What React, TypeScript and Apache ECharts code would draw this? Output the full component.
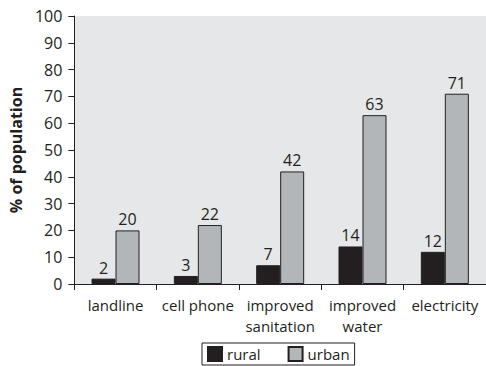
import React, { useEffect, useRef } from "react";
import * as echarts from "echarts";

const categories = ["landline", "cell phone", "improved\nsanitation", "improved\nwater", "electricity"];
const rural = [2, 3, 7, 14, 12];
const urban = [20, 22, 42, 63, 71];
const seriesNames = ["rural", "urban"];

const FONT = "'Open Sans', 'Noto Sans', sans-serif";
const INK = "#231f20";

export default function App() {
  const ref = useRef<HTMLDivElement>(null);
  useEffect(() => {
    if (!ref.current) return;
    const chart = echarts.init(ref.current, undefined, { renderer: "svg" });
    chart.setOption({
      animation: false,
      backgroundColor: "#ffffff",
      textStyle: { fontFamily: FONT, color: INK },
      grid: {
        left: 71,
        right: 0,
        top: 16,
        bottom: 82,
        show: true,
        backgroundColor: "#e6e7e8",
        borderWidth: 0,
      },
      legend: {
        data: seriesNames,
        top: 343,
        left: 202,
        icon: "rect",
        itemWidth: 14,
        itemHeight: 14,
        itemGap: 27,
        padding: [3, 5, 3, 5],
        borderColor: INK,
        borderWidth: 1,
        textStyle: { fontFamily: FONT, fontSize: 15, color: INK },
      },
      xAxis: {
        type: "category",
        data: categories,
        axisLine: { show: true, lineStyle: { color: INK, width: 1 } },
        axisTick: { show: true, length: 6, alignWithLabel: false, lineStyle: { color: INK } },
        axisLabel: {
          interval: 0,
          fontFamily: FONT,
          fontSize: 15,
          lineHeight: 21,
          color: INK,
          margin: 10,
        },
        splitLine: { show: false },
      },
      yAxis: {
        type: "value",
        min: 0,
        max: 100,
        interval: 10,
        name: "% of population",
        nameLocation: "middle",
        nameGap: 37,
        nameTextStyle: { fontFamily: FONT, fontSize: 16, fontWeight: "bold", color: INK },
        axisLine: { show: true, lineStyle: { color: INK, width: 1 } },
        axisTick: { show: true, length: 6, lineStyle: { color: INK } },
        axisLabel: { fontFamily: FONT, fontSize: 16, color: INK, margin: 12 },
        splitLine: { show: false },
      },
      series: [
        {
          name: seriesNames[0],
          type: "bar",
          data: rural,
          barWidth: 24,
          barGap: "0%",
          itemStyle: { color: INK, borderColor: INK, borderWidth: 1 },
          label: { show: true, position: "top", distance: 3, fontFamily: FONT, fontSize: 16, color: INK },
        },
        {
          name: seriesNames[1],
          type: "bar",
          data: urban,
          barWidth: 24,
          barGap: "0%",
          itemStyle: { color: "#b3b6b8", borderColor: INK, borderWidth: 1 },
          label: { show: true, position: "top", distance: 3, fontFamily: FONT, fontSize: 16, color: INK },
        },
      ],
    });
    return () => chart.dispose();
  }, []);
  return (
    <div
      ref={ref}
      style={{ position: "fixed", left: 0, top: 0, width: 486, height: 366 }}
    />
  );
}
